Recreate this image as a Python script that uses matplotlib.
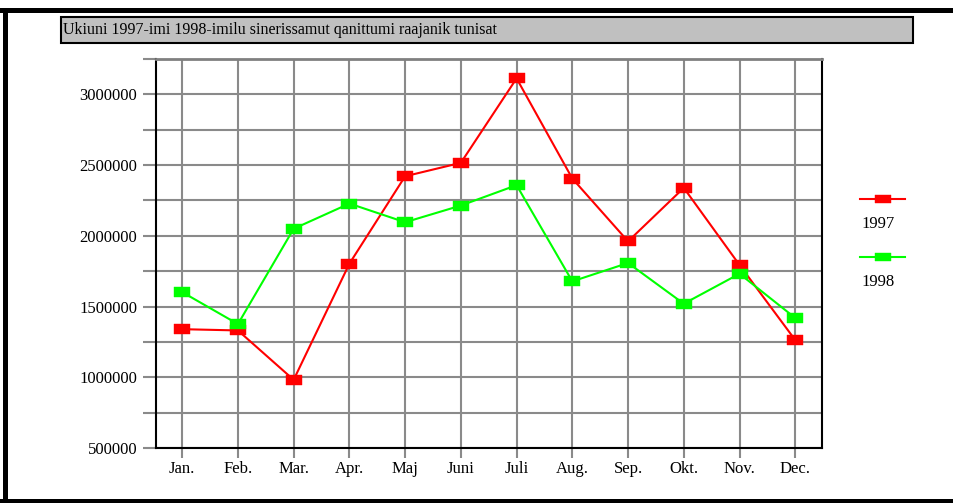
import matplotlib.pyplot as plt
from matplotlib.lines import Line2D
from matplotlib.patches import Rectangle
import numpy as np

plt.rcParams['font.family'] = ['Liberation Serif', 'DejaVu Serif']

# data
maaneder = ['Jan.', 'Feb.', 'Mar.', 'Apr.', 'Maj', 'Juni', 'Juli',
            'Aug.', 'Sep.', 'Okt.', 'Nov.', 'Dec.']
v1997 = [1340000, 1331000, 982000, 1803000, 2421000, 2516000, 3113000,
         2405000, 1961000, 2339000, 1794000, 1263000]
v1998 = [1602000, 1376000, 2050000, 2228000, 2096000, 2214000, 2358000,
         1678000, 1808000, 1520000, 1732000, 1419000]
aarit = ['1997', '1998']
farver = ['#ff0000', '#00ff00']
titel = 'Ukiuni 1997-imi 1998-imilu sinerissamut qanittumi raajanik tunisat'

W, H = 954, 503
fig = plt.figure(figsize=(W / 100, H / 100), dpi=100)

# ramme rundt om billedet
fig.add_artist(Line2D([0, 1], [1 - 9.5 / H, 1 - 9.5 / H], color='black', lw=3.6))
fig.add_artist(Line2D([5.5 / W, 5.5 / W], [2 / H, 1 - 9.5 / H], color='black', lw=3.6))
fig.add_artist(Line2D([0, 1], [2.5 / H, 2.5 / H], color='black', lw=3.6))

# titelboks
fig.add_artist(Rectangle((61 / W, 1 - 43 / H), 852 / W, 26 / H,
                         facecolor='#c0c0c0', edgecolor='black', lw=1.5))
fig.text(63 / W, 1 - 30 / H, titel, fontsize=11.5, va='center', ha='left')

ax = fig.add_axes([156 / W, 1 - 448 / H, 666 / W, 389 / H])
x = np.arange(len(maaneder))
rekt = [(-1.5, -1), (1.5, -1), (1.5, 1), (-1.5, 1), (-1.5, -1)]
for vals, c in zip([v1997, v1998], farver):
    ax.plot(x, vals, color=c, lw=1.5, marker=rekt, markersize=11,
            markerfacecolor=c, markeredgecolor=c, markeredgewidth=0.3, zorder=3)

ax.set_xlim(-0.47, 11.48)
ax.set_ylim(500000, 3250000)
ax.set_xticks(x)
ax.set_xticklabels(maaneder)
ax.set_yticks(np.arange(500000, 3250001, 250000))
ax.set_yticklabels([str(v) if v % 500000 == 0 else '' for v in range(500000, 3250001, 250000)])
ax.grid(True, color='#8a8a8a', lw=1.5)
ax.set_axisbelow(True)
ax.tick_params(axis='both', colors='#8a8a8a', width=1.5, labelcolor='black', labelsize=12)
ax.tick_params(axis='y', length=9.5, pad=4)
ax.tick_params(axis='x', length=7.5, pad=2)
for s in ['left', 'right', 'bottom']:
    ax.spines[s].set_color('black')
    ax.spines[s].set_linewidth(1.5)
ax.spines['top'].set_color('#808080')
ax.spines['top'].set_linewidth(2)

# forklaring
rekt2 = [(-1.9, -1), (1.9, -1), (1.9, 1), (-1.9, 1), (-1.9, -1)]
for i, (a, c) in enumerate(zip(aarit, farver)):
    yl = 1 - (199 + 58 * i) / H
    fig.add_artist(Line2D([860 / W, 905 / W], [yl, yl], color=c, lw=1.5))
    fig.add_artist(Line2D([883.5 / W], [yl], color=c, marker=rekt2, markersize=11,
                          markerfacecolor=c, markeredgecolor=c, markeredgewidth=0.3))
    fig.text(861 / W, 1 - (224 + 58 * i) / H, a, fontsize=12, va='center', ha='left')

plt.savefig('out.png', dpi=100)
